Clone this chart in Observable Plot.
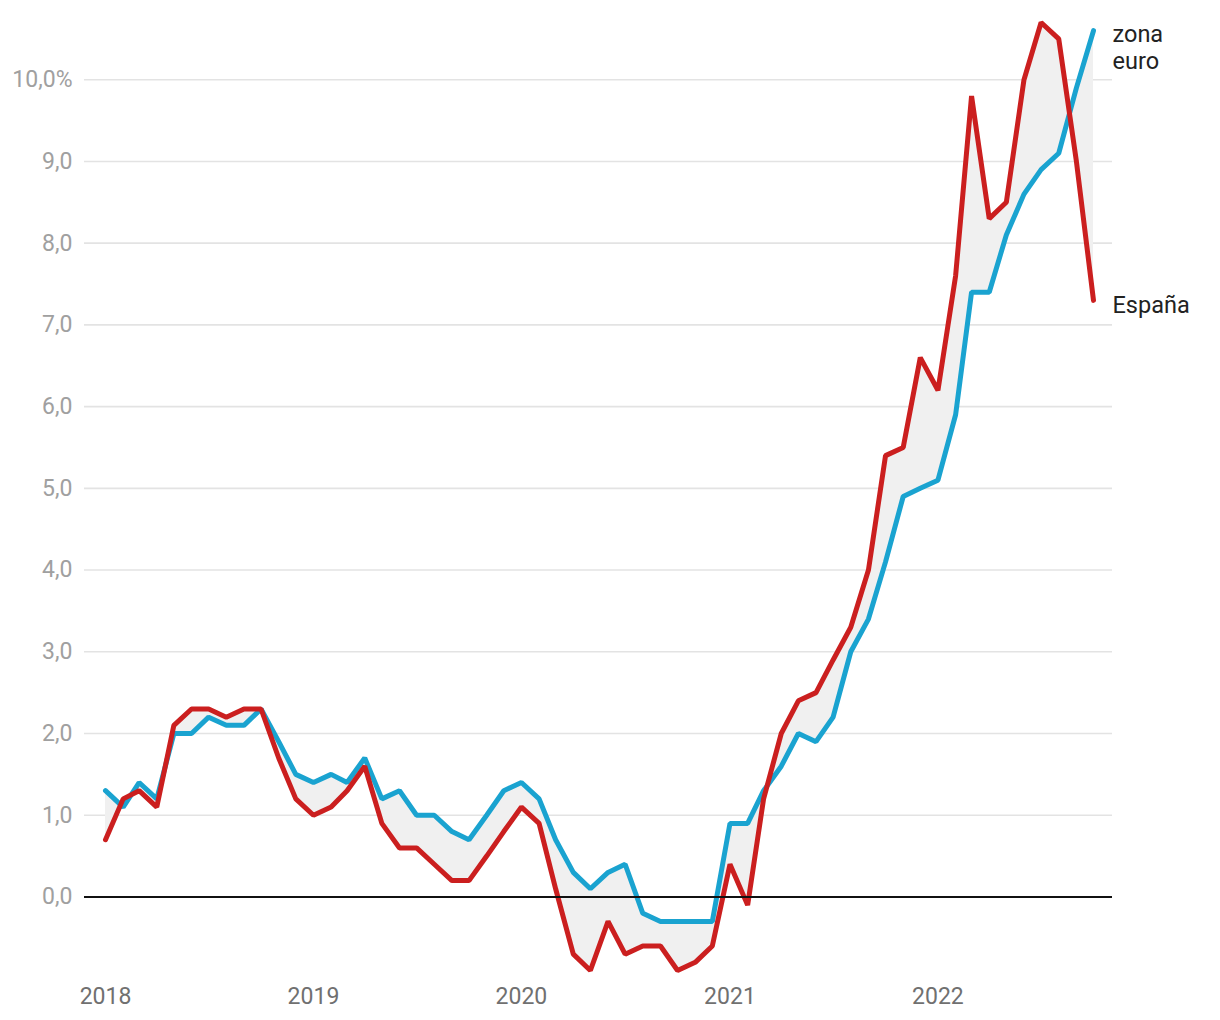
<!DOCTYPE html>
<html>
<head>
<meta charset="utf-8">
<script src="https://cdn.jsdelivr.net/npm/d3@7"></script>
<script src="https://cdn.jsdelivr.net/npm/@observablehq/plot@0.6"></script>
<style>
  html, body { margin: 0; padding: 0; background: #fff; }
  #chart { width: 1220px; height: 1020px; }
</style>
</head>
<body>
<div id="chart"></div>
<script>
const startMonth = "2018-01-01";
const euro = [1.3,1.1,1.4,1.2,2.0,2.0,2.2,2.1,2.1,2.3,1.9,1.5,
              1.4,1.5,1.4,1.7,1.2,1.3,1.0,1.0,0.8,0.7,1.0,1.3,
              1.4,1.2,0.7,0.3,0.1,0.3,0.4,-0.2,-0.3,-0.3,-0.3,-0.3,
              0.9,0.9,1.3,1.6,2.0,1.9,2.2,3.0,3.4,4.1,4.9,5.0,
              5.1,5.9,7.4,7.4,8.1,8.6,8.9,9.1,9.9,10.6];
const spain = [0.7,1.2,1.3,1.1,2.1,2.3,2.3,2.2,2.3,2.3,1.7,1.2,
               1.0,1.1,1.3,1.6,0.9,0.6,0.6,0.4,0.2,0.2,0.5,0.8,
               1.1,0.9,0.1,-0.7,-0.9,-0.3,-0.7,-0.6,-0.6,-0.9,-0.8,-0.6,
               0.4,-0.1,1.2,2.0,2.4,2.5,2.9,3.3,4.0,5.4,5.5,6.6,
               6.2,7.6,9.8,8.3,8.5,10.0,10.7,10.5,9.0,7.3];
const yTicks = [0,1,2,3,4,5,6,7,8,9,10];
const xTickYears = ["2018","2019","2020","2021","2022"];
const labelEuro = "zona\neuro";
const labelSpain = "España";

const start = new Date(startMonth);
const months = euro.map((_, i) => d3.utcMonth.offset(start, i));
const data = months.map((date, i) => ({date, euro: euro[i], spain: spain[i]}));
const last = data[data.length - 1];

const fmtY = d => (d === 10 ? "10,0%" : d.toFixed(1).replace(".", ","));

const chart = Plot.plot({
  width: 1220,
  height: 1020,
  marginTop: 22,
  marginBottom: 50,
  marginLeft: 84,
  marginRight: 108,
  insetLeft: 21,
  insetRight: 19,
  style: {fontFamily: "Roboto", fontSize: "23px", background: "#fff"},
  x: {type: "utc", domain: [months[0], months[months.length - 1]]},
  y: {domain: [-0.9, 10.7]},
  marks: [
    Plot.gridY(yTicks.filter(d => d !== 0), {stroke: "#e3e3e3", strokeOpacity: 1, strokeWidth: 1.6}),
    Plot.axisY(yTicks, {tickSize: 0, tickPadding: 12, tickFormat: fmtY, fill: "#a0a0a0", label: null, fontSize: 23}),
    Plot.axisX(xTickYears.map(y => new Date(y + "-01-01")), {tickSize: 0, tickPadding: 17, tickFormat: d3.utcFormat("%Y"), fill: "#707070", label: null, fontSize: 23}),
    Plot.areaY(data, {x: "date", y1: "euro", y2: "spain", fill: "#f0f0f0"}),
    Plot.line(data, {x: "date", y: "euro", stroke: "#1aa3d0", strokeWidth: 5, strokeLinejoin: "miter", strokeLinecap: "round"}),
    Plot.line(data, {x: "date", y: "spain", stroke: "#cb1f1f", strokeWidth: 5, strokeLinejoin: "miter", strokeLinecap: "round"}),
    Plot.ruleY([0], {stroke: "#111", strokeWidth: 2}),
    Plot.text([last], {x: "date", y: "euro", text: () => labelEuro, textAnchor: "start", lineAnchor: "top", dx: 19, dy: -8, lineHeight: 1.16, fill: "#222", fontSize: 23.5}),
    Plot.text([last], {x: "date", y: "spain", text: () => labelSpain, textAnchor: "start", lineAnchor: "middle", dx: 19, dy: 5, fill: "#222", fontSize: 23.5})
  ]
});
document.getElementById("chart").appendChild(chart);
</script>
</body>
</html>
